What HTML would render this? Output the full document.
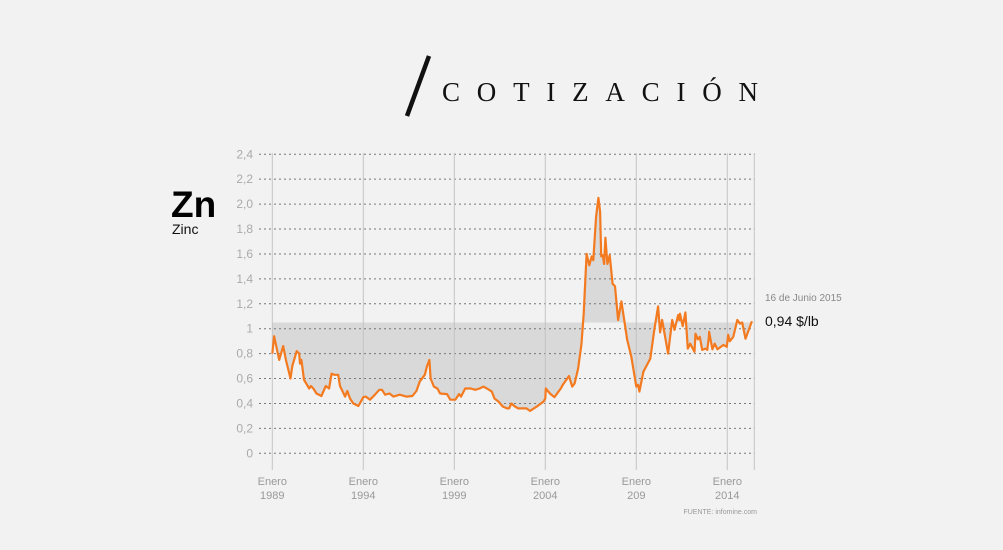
<!DOCTYPE html>
<html><head><meta charset="utf-8"><style>
html,body{margin:0;padding:0;background:#f2f2f2;}
svg{display:block;font-family:"Liberation Sans",sans-serif;}
</style></head><body>
<svg id="chart" width="1003" height="550" viewBox="0 0 1003 550">
<rect width="1003" height="550" fill="#f2f2f2"/>
<line x1="429" y1="56" x2="407" y2="116" stroke="#111" stroke-width="4.5"/>
<text x="442" y="101" font-family="Liberation Serif,serif" font-size="27" fill="#111" textLength="316" lengthAdjust="spacing">COTIZACIÓN</text>
<text x="171" y="217" font-size="37" font-weight="bold" fill="#000">Zn</text>
<text x="172" y="234" font-size="14" fill="#111">Zinc</text>
<g id="grid"></g>
<g id="marks"></g>
<text x="765" y="301" font-size="10" fill="#888">16 de Junio 2015</text>
<text x="765" y="326" font-size="14" fill="#111">0,94 $/lb</text>
<text x="757" y="514" font-size="7" fill="#999" text-anchor="end">FUENTE: infomine.com</text>
</svg>
<script>
const yTicks=[0,0.2,0.4,0.6,0.8,1,1.2,1.4,1.6,1.8,2.0,2.2,2.4];
const yTickLabels=["0","0,2","0,4","0,6","0,8","1","1,2","1,4","1,6","1,8","2,0","2,2","2,4"];
const xTicks=[1989,1994,1999,2004,2009,2014];
const xTickYears=["1989","1994","1999","2004","209","2014"];
const baseline=1.05;
const years=[1989.0,1989.1,1989.38,1989.6,1989.75,1990.0,1990.1,1990.34,1990.48,1990.52,1990.6,1990.74,1991.03,1991.12,1991.25,1991.43,1991.7,1991.94,1992.12,1992.26,1992.4,1992.62,1992.72,1993.0,1993.12,1993.27,1993.45,1993.73,1994.0,1994.13,1994.37,1994.64,1994.88,1995.03,1995.2,1995.44,1995.66,1996.0,1996.37,1996.7,1996.92,1997.1,1997.38,1997.5,1997.63,1997.7,1997.88,1998.07,1998.22,1998.6,1998.78,1999.06,1999.26,1999.37,1999.6,1999.91,2000.15,2000.39,2000.6,2000.79,2001.06,2001.21,2001.43,2001.67,2001.9,2002.01,2002.14,2002.29,2002.51,2002.78,2002.96,2003.16,2003.53,2003.9,2004.0,2004.03,2004.25,2004.5,2004.85,2004.96,2005.3,2005.48,2005.61,2005.8,2005.99,2006.11,2006.27,2006.42,2006.55,2006.64,2006.79,2006.92,2007.01,2007.07,2007.16,2007.23,2007.3,2007.41,2007.54,2007.7,2007.83,2008.0,2008.18,2008.5,2008.72,2009.0,2009.1,2009.17,2009.39,2009.77,2009.99,2010.2,2010.31,2010.42,2010.75,2010.97,2011.1,2011.3,2011.37,2011.4,2011.55,2011.7,2011.83,2011.96,2012.2,2012.25,2012.38,2012.49,2012.62,2012.8,2012.9,2012.99,2013.0,2013.18,2013.31,2013.46,2013.79,2013.97,2014.05,2014.14,2014.33,2014.55,2014.7,2014.82,2015.0,2015.35];
const prices=[0.80,0.94,0.75,0.86,0.75,0.60,0.70,0.82,0.80,0.72,0.75,0.59,0.52,0.54,0.52,0.48,0.46,0.54,0.52,0.64,0.63,0.63,0.54,0.455,0.50,0.44,0.40,0.38,0.45,0.455,0.43,0.47,0.51,0.51,0.47,0.48,0.455,0.47,0.455,0.46,0.50,0.575,0.63,0.70,0.75,0.60,0.535,0.52,0.48,0.475,0.43,0.43,0.475,0.455,0.52,0.52,0.51,0.52,0.535,0.52,0.495,0.44,0.415,0.375,0.36,0.36,0.40,0.38,0.36,0.36,0.36,0.34,0.375,0.415,0.44,0.52,0.48,0.45,0.52,0.55,0.62,0.535,0.56,0.68,0.88,1.12,1.60,1.51,1.58,1.55,1.90,2.05,1.94,1.58,1.59,1.52,1.73,1.52,1.59,1.36,1.34,1.07,1.22,0.91,0.78,0.535,0.55,0.495,0.655,0.76,0.99,1.18,0.97,1.07,0.80,1.07,0.99,1.11,1.07,1.12,1.02,1.13,0.84,0.88,0.815,0.96,0.915,0.935,0.83,0.84,0.83,0.935,0.975,0.835,0.88,0.835,0.87,0.855,0.95,0.90,0.935,1.07,1.04,1.05,0.92,1.06];

const NS="http://www.w3.org/2000/svg";
const X=y=>272.3+(y-1989)*18.2;
const Y=v=>453.3-v*124.6;
function mk(tag,attrs,parent){const e=document.createElementNS(NS,tag);for(const k in attrs)e.setAttribute(k,attrs[k]);parent.appendChild(e);return e;}
const grid=document.getElementById('grid'),marks=document.getElementById('marks');
let d="M"+X(years[0])+","+Y(baseline);
years.forEach((yr,i)=>{d+=" L"+X(yr).toFixed(1)+","+Y(prices[i]).toFixed(1);});
d+=" L"+X(years[years.length-1]).toFixed(1)+","+Y(baseline)+" Z";
const area=mk('path',{d:d,fill:'#d9d9d9',stroke:'none'},grid);


yTicks.forEach((v,i)=>{
  const l=mk('line',{x1:259,x2:755,y1:Y(v),y2:Y(v),stroke:'#777','stroke-width':1,'stroke-dasharray':'2,3'},grid);
  
  
  const t=mk('text',{x:253,y:Y(v)+4,'text-anchor':'end','font-size':12,fill:'#aaa'},grid);
  t.textContent=yTickLabels[i];
  
  
});
xTicks.forEach((yr,i)=>{
  const x=X(yr);
  const l=mk('line',{x1:x,x2:x,y1:153,y2:470,stroke:'#c4c4c4','stroke-width':1},grid);
  
  
  const t1=mk('text',{x:x,y:485,'text-anchor':'middle','font-size':11,fill:'#999'},grid);
  t1.textContent='Enero';
  
  
  const t2=mk('text',{x:x,y:499,'text-anchor':'middle','font-size':11,fill:'#999'},grid);
  t2.textContent=xTickYears[i];
  
  
});
const endLine=mk('line',{x1:754.3,x2:754.3,y1:153,y2:470,stroke:'#c4c4c4','stroke-width':1},grid);


let p="";
years.forEach((yr,i)=>{p+=(i?" L":"M")+X(yr).toFixed(1)+","+Y(prices[i]).toFixed(1);});
const line=mk('path',{d:p,fill:'none',stroke:'#f47a20','stroke-width':2.2,'stroke-linejoin':'round'},marks);


</script>
</body></html>
